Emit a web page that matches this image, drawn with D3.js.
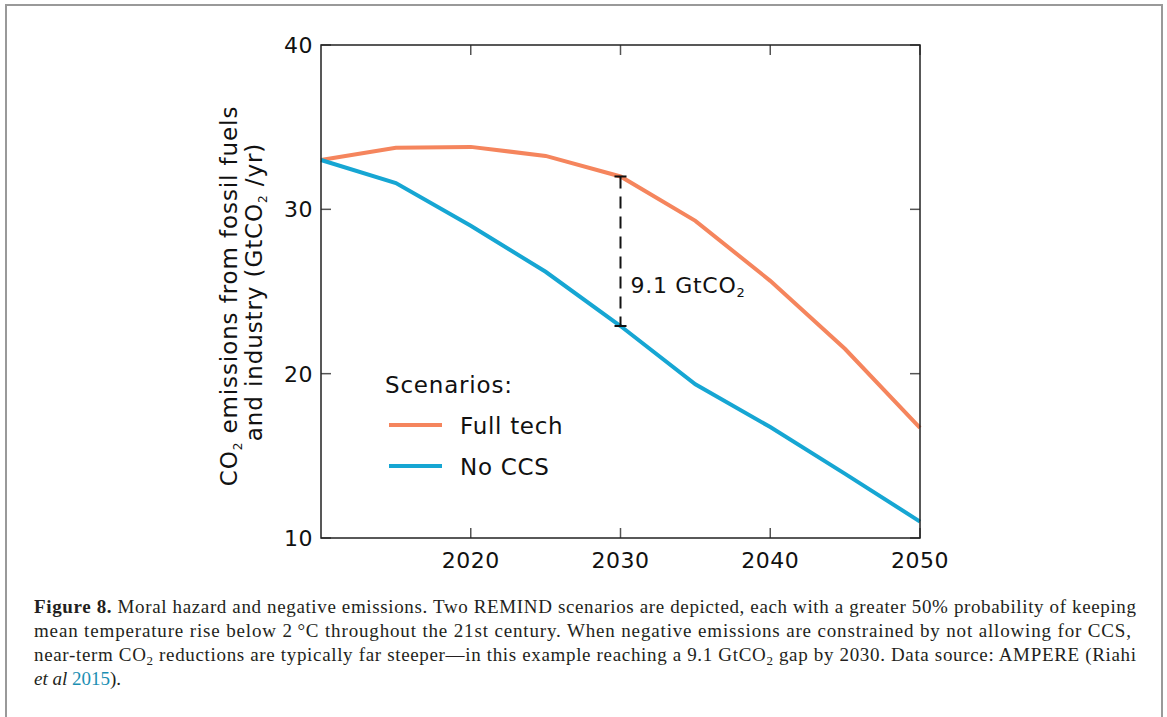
<!DOCTYPE html>
<html>
  <head>
    <meta charset="utf-8">
    <script src="https://d3js.org/d3.v7.min.js"></script>
    <style>
      body { margin: 0; background: #fff; }
      .chart text { font-family: "DejaVu Sans", Verdana, sans-serif; fill: #111; }
      .chart text.caption { font-family: "Liberation Serif", "Times New Roman", serif; font-size: 19px; fill: #231f20; }
    </style>
  </head>
  <body>
    <div id="chart"></div>
    <script>
      const years = [2010, 2015, 2020, 2025, 2030, 2035, 2040, 2045, 2050];
      const fullTech = [33.0, 33.75, 33.8, 33.25, 32.0, 29.3, 25.65, 21.5, 16.7];
      const noCCS = [33.0, 31.6, 29.0, 26.2, 22.9, 19.35, 16.75, 13.9, 11.0];
      const xTicks = [2020, 2030, 2040, 2050];
      const yTicks = [10, 20, 30, 40];
      const gapYear = 2030;

      const W = 1167, H = 717;
      const svg = d3.select("#chart").append("svg")
        .attr("class", "chart")
        .attr("width", W).attr("height", H);

      // figure frame
      svg.append("path")
        .attr("d", `M6,${H + 5} V5 H1162 V${H + 5}`)
        .attr("fill", "none").attr("stroke", "#999").attr("stroke-width", 2);

      const x = d3.scaleLinear().domain([2010, 2050]).range([321, 920]);
      const y = d3.scaleLinear().domain([10, 40]).range([538, 45]);

      // inward ticks on all four sides
      const tickLen = 10;
      const g = svg.append("g");
      g.selectAll(".xtb").data(xTicks).enter().append("line")
        .attr("x1", d => x(d)).attr("x2", d => x(d))
        .attr("y1", y(10)).attr("y2", y(10) - tickLen)
        .attr("stroke", "#555").attr("stroke-width", 1.5);
      g.selectAll(".xtt").data(xTicks).enter().append("line")
        .attr("x1", d => x(d)).attr("x2", d => x(d))
        .attr("y1", y(40)).attr("y2", y(40) + tickLen)
        .attr("stroke", "#555").attr("stroke-width", 1.5);
      g.selectAll(".ytl").data(yTicks).enter().append("line")
        .attr("x1", x(2010)).attr("x2", x(2010) + tickLen)
        .attr("y1", d => y(d)).attr("y2", d => y(d))
        .attr("stroke", "#555").attr("stroke-width", 1.5);
      g.selectAll(".ytr").data(yTicks).enter().append("line")
        .attr("x1", x(2050)).attr("x2", x(2050) - tickLen)
        .attr("y1", d => y(d)).attr("y2", d => y(d))
        .attr("stroke", "#555").attr("stroke-width", 1.5);

      // tick labels
      g.selectAll(".xl").data(xTicks).enter().append("text")
        .attr("x", d => x(d)).attr("y", y(10) + 30)
        .attr("text-anchor", "middle").style("font-size", "22px")
        .style("letter-spacing", "0.5px")
        .text(d => d);
      g.selectAll(".yl").data(yTicks).enter().append("text")
        .attr("x", x(2010) - 8).attr("y", d => y(d) + 8)
        .attr("text-anchor", "end").style("font-size", "22px")
        .style("letter-spacing", "0.5px")
        .text(d => d);

      // lines
      const line = d3.line().x(d => x(d[0])).y(d => y(d[1]));
      svg.append("path")
        .datum(years.map((yr, i) => [yr, fullTech[i]]))
        .attr("d", line).attr("fill", "none")
        .attr("stroke", "#f5855d").attr("stroke-width", 4);
      svg.append("path")
        .datum(years.map((yr, i) => [yr, noCCS[i]]))
        .attr("d", line).attr("fill", "none")
        .attr("stroke", "#16a6d3").attr("stroke-width", 4);

      // plot box
      svg.append("rect")
        .attr("x", x(2010)).attr("y", y(40))
        .attr("width", x(2050) - x(2010)).attr("height", y(10) - y(40))
        .attr("fill", "none").attr("stroke", "#222").attr("stroke-width", 1.5);

      // gap annotation
      const i30 = years.indexOf(gapYear);
      const gx = x(gapYear);
      svg.append("line")
        .attr("x1", gx).attr("x2", gx)
        .attr("y1", y(fullTech[i30])).attr("y2", y(noCCS[i30]))
        .attr("stroke", "#111").attr("stroke-width", 2)
        .attr("stroke-dasharray", "12,8");
      [fullTech[i30], noCCS[i30]].forEach(v => {
        svg.append("line")
          .attr("x1", gx - 6).attr("x2", gx + 6)
          .attr("y1", y(v)).attr("y2", y(v))
          .attr("stroke", "#111").attr("stroke-width", 2);
      });
      const gapText = svg.append("text")
        .attr("x", gx + 10).attr("y", 293)
        .style("font-size", "22px").style("letter-spacing", "0.7px");
      gapText.append("tspan").text(d3.format(".1f")(fullTech[i30] - noCCS[i30]) + " GtCO");
      gapText.append("tspan").attr("dy", 4).style("font-size", "13px").text("2");

      // legend
      svg.append("text").attr("x", 385).attr("y", 393)
        .style("font-size", "23px").style("letter-spacing", "0.8px").text("Scenarios:");
      const legend = [["Full tech", "#f5855d"], ["No CCS", "#16a6d3"]];
      legend.forEach((d, i) => {
        const ly = 425 + i * 41;
        svg.append("line").attr("x1", 389).attr("x2", 442)
          .attr("y1", ly).attr("y2", ly)
          .attr("stroke", d[1]).attr("stroke-width", 4);
        svg.append("text").attr("x", 460).attr("y", ly + 9)
          .style("font-size", "23px").style("letter-spacing", "0.7px").text(d[0]);
      });

      // y axis title
      const yt = svg.append("text")
        .attr("transform", "translate(237,296) rotate(-90)")
        .attr("text-anchor", "middle")
        .style("font-size", "23px").style("letter-spacing", "0.9px");
      yt.append("tspan").text("CO");
      yt.append("tspan").attr("dy", 5).style("font-size", "12px").text("2");
      yt.append("tspan").attr("dy", -5).text(" emissions from fossil fuels");
      const yt2 = svg.append("text")
        .attr("transform", "translate(262,292) rotate(-90)")
        .attr("text-anchor", "middle")
        .style("font-size", "23px").style("letter-spacing", "0.9px");
      yt2.append("tspan").text("and industry (GtCO");
      yt2.append("tspan").attr("dy", 5).style("font-size", "12px").text("2");
      yt2.append("tspan").attr("dy", -5).text(" /yr)");

      // caption
      const cap = svg.append("g");
      const c1 = cap.append("text").attr("class", "caption").attr("x", 34).attr("y", 613)
        .attr("textLength", 1102).attr("lengthAdjust", "spacing");
      c1.append("tspan").style("font-weight", "bold").text("Figure 8.");
      c1.append("tspan").text(" Moral hazard and negative emissions. Two REMIND scenarios are depicted, each with a greater 50% probability of keeping");
      cap.append("text").attr("class", "caption").attr("x", 34).attr("y", 637)
        .attr("textLength", 1097).attr("lengthAdjust", "spacing")
        .text("mean temperature rise below 2\u2009\u00b0C throughout the 21st century. When negative emissions are constrained by not allowing for CCS,");
      const c3 = cap.append("text").attr("class", "caption").attr("x", 34).attr("y", 661)
        .attr("textLength", 1102).attr("lengthAdjust", "spacing");
      c3.append("tspan").text("near-term CO");
      c3.append("tspan").attr("dy", 4).style("font-size", "13px").text("2");
      c3.append("tspan").attr("dy", -4).text(" reductions are typically far steeper\u2014in this example reaching a 9.1 GtCO");
      c3.append("tspan").attr("dy", 4).style("font-size", "13px").text("2");
      c3.append("tspan").attr("dy", -4).text(" gap by 2030. Data source: AMPERE (Riahi");
      const c4 = cap.append("text").attr("class", "caption").attr("x", 34).attr("y", 685);
      c4.append("tspan").style("font-style", "italic").text("et al");
      c4.append("tspan").text(" ");
      c4.append("tspan").style("fill", "#1b8fb3").text("2015");
      c4.append("tspan").text(").");
    </script>
  </body>
</html>
